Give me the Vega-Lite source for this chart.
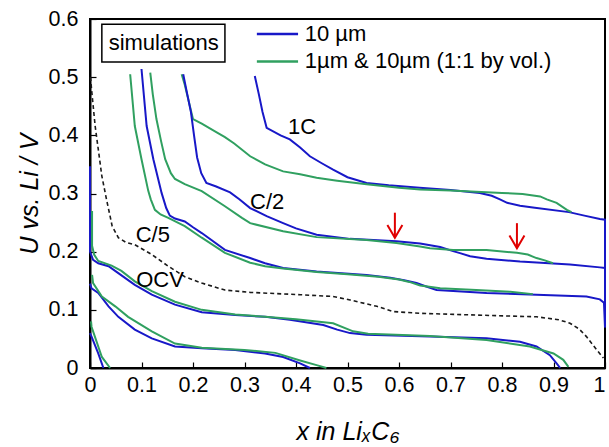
{
  "$schema": "https://vega.github.io/schema/vega-lite/v6.json",
  "width": 515,
  "height": 349,
  "autosize": {"type": "none"},
  "padding": {"left": 90, "top": 19, "right": 4, "bottom": 79},
  "background": "white",
  "config": {
    "view": {"stroke": "black", "strokeWidth": 2},
    "font": "Liberation Sans",
    "axis": {"grid": false, "zindex": 1, "labelFlush": false, "labelOverlap": false, "domainColor": "black", "domainWidth": 2, "tickColor": "black", "tickWidth": 1.2, "tickSize": -6, "labelFontSize": 21.5, "labelColor": "black", "labelFont": "Liberation Sans", "titleFont": "Liberation Sans", "titleFontSize": 25, "titleFontWeight": "normal", "titleFontStyle": "italic", "titleColor": "black"}
  },
  "datasets": {
    "curves": [
      {"c": "b1", "t": "10 µm", "x": 1, "y": 0.07},
      {"c": "b1", "t": "10 µm", "x": 1, "y": 0.255},
      {"c": "b1", "t": "10 µm", "x": 0.99, "y": 0.256},
      {"c": "b1", "t": "10 µm", "x": 0.96, "y": 0.262},
      {"c": "b1", "t": "10 µm", "x": 0.93, "y": 0.268},
      {"c": "b1", "t": "10 µm", "x": 0.86, "y": 0.276},
      {"c": "b1", "t": "10 µm", "x": 0.835, "y": 0.279},
      {"c": "b1", "t": "10 µm", "x": 0.81, "y": 0.284},
      {"c": "b1", "t": "10 µm", "x": 0.796, "y": 0.29},
      {"c": "b1", "t": "10 µm", "x": 0.78, "y": 0.296},
      {"c": "b1", "t": "10 µm", "x": 0.757, "y": 0.301},
      {"c": "b1", "t": "10 µm", "x": 0.7, "y": 0.306},
      {"c": "b1", "t": "10 µm", "x": 0.64, "y": 0.31},
      {"c": "b1", "t": "10 µm", "x": 0.58, "y": 0.314},
      {"c": "b1", "t": "10 µm", "x": 0.537, "y": 0.318},
      {"c": "b1", "t": "10 µm", "x": 0.5, "y": 0.328},
      {"c": "b1", "t": "10 µm", "x": 0.472, "y": 0.341},
      {"c": "b1", "t": "10 µm", "x": 0.45, "y": 0.352},
      {"c": "b1", "t": "10 µm", "x": 0.427, "y": 0.364},
      {"c": "b1", "t": "10 µm", "x": 0.408, "y": 0.379},
      {"c": "b1", "t": "10 µm", "x": 0.388, "y": 0.393},
      {"c": "b1", "t": "10 µm", "x": 0.37, "y": 0.4},
      {"c": "b1", "t": "10 µm", "x": 0.343, "y": 0.413},
      {"c": "b1", "t": "10 µm", "x": 0.335, "y": 0.44},
      {"c": "b1", "t": "10 µm", "x": 0.328, "y": 0.47},
      {"c": "b1", "t": "10 µm", "x": 0.32, "y": 0.502},

      {"c": "g1", "t": "1µm & 10µm (1:1 by vol.)", "x": 0.935, "y": 0.268},
      {"c": "g1", "t": "1µm & 10µm (1:1 by vol.)", "x": 0.926, "y": 0.272},
      {"c": "g1", "t": "1µm & 10µm (1:1 by vol.)", "x": 0.906, "y": 0.284},
      {"c": "g1", "t": "1µm & 10µm (1:1 by vol.)", "x": 0.887, "y": 0.29},
      {"c": "g1", "t": "1µm & 10µm (1:1 by vol.)", "x": 0.874, "y": 0.295},
      {"c": "g1", "t": "1µm & 10µm (1:1 by vol.)", "x": 0.84, "y": 0.299},
      {"c": "g1", "t": "1µm & 10µm (1:1 by vol.)", "x": 0.8, "y": 0.301},
      {"c": "g1", "t": "1µm & 10µm (1:1 by vol.)", "x": 0.7, "y": 0.305},
      {"c": "g1", "t": "1µm & 10µm (1:1 by vol.)", "x": 0.641, "y": 0.307},
      {"c": "g1", "t": "1µm & 10µm (1:1 by vol.)", "x": 0.6, "y": 0.31},
      {"c": "g1", "t": "1µm & 10µm (1:1 by vol.)", "x": 0.537, "y": 0.316},
      {"c": "g1", "t": "1µm & 10µm (1:1 by vol.)", "x": 0.48, "y": 0.322},
      {"c": "g1", "t": "1µm & 10µm (1:1 by vol.)", "x": 0.44, "y": 0.327},
      {"c": "g1", "t": "1µm & 10µm (1:1 by vol.)", "x": 0.408, "y": 0.333},
      {"c": "g1", "t": "1µm & 10µm (1:1 by vol.)", "x": 0.375, "y": 0.338},
      {"c": "g1", "t": "1µm & 10µm (1:1 by vol.)", "x": 0.34, "y": 0.35},
      {"c": "g1", "t": "1µm & 10µm (1:1 by vol.)", "x": 0.311, "y": 0.364},
      {"c": "g1", "t": "1µm & 10µm (1:1 by vol.)", "x": 0.28, "y": 0.386},
      {"c": "g1", "t": "1µm & 10µm (1:1 by vol.)", "x": 0.262, "y": 0.397},
      {"c": "g1", "t": "1µm & 10µm (1:1 by vol.)", "x": 0.246, "y": 0.405},
      {"c": "g1", "t": "1µm & 10µm (1:1 by vol.)", "x": 0.217, "y": 0.42},
      {"c": "g1", "t": "1µm & 10µm (1:1 by vol.)", "x": 0.2, "y": 0.428},
      {"c": "g1", "t": "1µm & 10µm (1:1 by vol.)", "x": 0.197, "y": 0.439},
      {"c": "g1", "t": "1µm & 10µm (1:1 by vol.)", "x": 0.19, "y": 0.465},
      {"c": "g1", "t": "1µm & 10µm (1:1 by vol.)", "x": 0.184, "y": 0.487},
      {"c": "g1", "t": "1µm & 10µm (1:1 by vol.)", "x": 0.178, "y": 0.505},

      {"c": "b2", "t": "10 µm", "x": 1, "y": 0.07},
      {"c": "b2", "t": "10 µm", "x": 1, "y": 0.172},
      {"c": "b2", "t": "10 µm", "x": 0.99, "y": 0.173},
      {"c": "b2", "t": "10 µm", "x": 0.932, "y": 0.178},
      {"c": "b2", "t": "10 µm", "x": 0.835, "y": 0.183},
      {"c": "b2", "t": "10 µm", "x": 0.77, "y": 0.188},
      {"c": "b2", "t": "10 µm", "x": 0.738, "y": 0.192},
      {"c": "b2", "t": "10 µm", "x": 0.72, "y": 0.197},
      {"c": "b2", "t": "10 µm", "x": 0.705, "y": 0.201},
      {"c": "b2", "t": "10 µm", "x": 0.68, "y": 0.208},
      {"c": "b2", "t": "10 µm", "x": 0.641, "y": 0.214},
      {"c": "b2", "t": "10 µm", "x": 0.595, "y": 0.218},
      {"c": "b2", "t": "10 µm", "x": 0.505, "y": 0.222},
      {"c": "b2", "t": "10 µm", "x": 0.44, "y": 0.229},
      {"c": "b2", "t": "10 µm", "x": 0.4, "y": 0.24},
      {"c": "b2", "t": "10 µm", "x": 0.375, "y": 0.249},
      {"c": "b2", "t": "10 µm", "x": 0.343, "y": 0.261},
      {"c": "b2", "t": "10 µm", "x": 0.311, "y": 0.275},
      {"c": "b2", "t": "10 µm", "x": 0.29, "y": 0.29},
      {"c": "b2", "t": "10 µm", "x": 0.272, "y": 0.302},
      {"c": "b2", "t": "10 µm", "x": 0.245, "y": 0.312},
      {"c": "b2", "t": "10 µm", "x": 0.226, "y": 0.318},
      {"c": "b2", "t": "10 µm", "x": 0.216, "y": 0.335},
      {"c": "b2", "t": "10 µm", "x": 0.208, "y": 0.362},
      {"c": "b2", "t": "10 µm", "x": 0.202, "y": 0.4},
      {"c": "b2", "t": "10 µm", "x": 0.196, "y": 0.44},
      {"c": "b2", "t": "10 µm", "x": 0.189, "y": 0.47},
      {"c": "b2", "t": "10 µm", "x": 0.181, "y": 0.505},

      {"c": "g2", "t": "1µm & 10µm (1:1 by vol.)", "x": 0.899, "y": 0.18},
      {"c": "g2", "t": "1µm & 10µm (1:1 by vol.)", "x": 0.883, "y": 0.185},
      {"c": "g2", "t": "1µm & 10µm (1:1 by vol.)", "x": 0.867, "y": 0.189},
      {"c": "g2", "t": "1µm & 10µm (1:1 by vol.)", "x": 0.85, "y": 0.195},
      {"c": "g2", "t": "1µm & 10µm (1:1 by vol.)", "x": 0.829, "y": 0.198},
      {"c": "g2", "t": "1µm & 10µm (1:1 by vol.)", "x": 0.77, "y": 0.203},
      {"c": "g2", "t": "1µm & 10µm (1:1 by vol.)", "x": 0.705, "y": 0.203},
      {"c": "g2", "t": "1µm & 10µm (1:1 by vol.)", "x": 0.66, "y": 0.206},
      {"c": "g2", "t": "1µm & 10µm (1:1 by vol.)", "x": 0.641, "y": 0.209},
      {"c": "g2", "t": "1µm & 10µm (1:1 by vol.)", "x": 0.595, "y": 0.215},
      {"c": "g2", "t": "1µm & 10µm (1:1 by vol.)", "x": 0.537, "y": 0.22},
      {"c": "g2", "t": "1µm & 10µm (1:1 by vol.)", "x": 0.44, "y": 0.225},
      {"c": "g2", "t": "1µm & 10µm (1:1 by vol.)", "x": 0.375, "y": 0.235},
      {"c": "g2", "t": "1µm & 10µm (1:1 by vol.)", "x": 0.311, "y": 0.249},
      {"c": "g2", "t": "1µm & 10µm (1:1 by vol.)", "x": 0.295, "y": 0.258},
      {"c": "g2", "t": "1µm & 10µm (1:1 by vol.)", "x": 0.262, "y": 0.278},
      {"c": "g2", "t": "1µm & 10µm (1:1 by vol.)", "x": 0.217, "y": 0.304},
      {"c": "g2", "t": "1µm & 10µm (1:1 by vol.)", "x": 0.184, "y": 0.316},
      {"c": "g2", "t": "1µm & 10µm (1:1 by vol.)", "x": 0.165, "y": 0.325},
      {"c": "g2", "t": "1µm & 10µm (1:1 by vol.)", "x": 0.157, "y": 0.335},
      {"c": "g2", "t": "1µm & 10µm (1:1 by vol.)", "x": 0.146, "y": 0.359},
      {"c": "g2", "t": "1µm & 10µm (1:1 by vol.)", "x": 0.138, "y": 0.39},
      {"c": "g2", "t": "1µm & 10µm (1:1 by vol.)", "x": 0.129, "y": 0.428},
      {"c": "g2", "t": "1µm & 10µm (1:1 by vol.)", "x": 0.122, "y": 0.47},
      {"c": "g2", "t": "1µm & 10µm (1:1 by vol.)", "x": 0.117, "y": 0.508},

      {"c": "b3", "t": "10 µm", "x": 1, "y": 0.07},
      {"c": "b3", "t": "10 µm", "x": 0.998, "y": 0.112},
      {"c": "b3", "t": "10 µm", "x": 0.99, "y": 0.118},
      {"c": "b3", "t": "10 µm", "x": 0.964, "y": 0.123},
      {"c": "b3", "t": "10 µm", "x": 0.867, "y": 0.126},
      {"c": "b3", "t": "10 µm", "x": 0.77, "y": 0.129},
      {"c": "b3", "t": "10 µm", "x": 0.673, "y": 0.134},
      {"c": "b3", "t": "10 µm", "x": 0.65, "y": 0.141},
      {"c": "b3", "t": "10 µm", "x": 0.634, "y": 0.146},
      {"c": "b3", "t": "10 µm", "x": 0.61, "y": 0.151},
      {"c": "b3", "t": "10 µm", "x": 0.583, "y": 0.155},
      {"c": "b3", "t": "10 µm", "x": 0.537, "y": 0.16},
      {"c": "b3", "t": "10 µm", "x": 0.44, "y": 0.166},
      {"c": "b3", "t": "10 µm", "x": 0.375, "y": 0.172},
      {"c": "b3", "t": "10 µm", "x": 0.34, "y": 0.18},
      {"c": "b3", "t": "10 µm", "x": 0.311, "y": 0.189},
      {"c": "b3", "t": "10 µm", "x": 0.262, "y": 0.203},
      {"c": "b3", "t": "10 µm", "x": 0.217, "y": 0.232},
      {"c": "b3", "t": "10 µm", "x": 0.2, "y": 0.242},
      {"c": "b3", "t": "10 µm", "x": 0.184, "y": 0.252},
      {"c": "b3", "t": "10 µm", "x": 0.165, "y": 0.257},
      {"c": "b3", "t": "10 µm", "x": 0.155, "y": 0.262},
      {"c": "b3", "t": "10 µm", "x": 0.148, "y": 0.275},
      {"c": "b3", "t": "10 µm", "x": 0.139, "y": 0.301},
      {"c": "b3", "t": "10 µm", "x": 0.123, "y": 0.359},
      {"c": "b3", "t": "10 µm", "x": 0.11, "y": 0.416},
      {"c": "b3", "t": "10 µm", "x": 0.1, "y": 0.514},

      {"c": "g3", "t": "1µm & 10µm (1:1 by vol.)", "x": 0.86, "y": 0.127},
      {"c": "g3", "t": "1µm & 10µm (1:1 by vol.)", "x": 0.816, "y": 0.131},
      {"c": "g3", "t": "1µm & 10µm (1:1 by vol.)", "x": 0.75, "y": 0.134},
      {"c": "g3", "t": "1µm & 10µm (1:1 by vol.)", "x": 0.68, "y": 0.137},
      {"c": "g3", "t": "1µm & 10µm (1:1 by vol.)", "x": 0.641, "y": 0.142},
      {"c": "g3", "t": "1µm & 10µm (1:1 by vol.)", "x": 0.62, "y": 0.148},
      {"c": "g3", "t": "1µm & 10µm (1:1 by vol.)", "x": 0.6, "y": 0.152},
      {"c": "g3", "t": "1µm & 10µm (1:1 by vol.)", "x": 0.56, "y": 0.157},
      {"c": "g3", "t": "1µm & 10µm (1:1 by vol.)", "x": 0.5, "y": 0.161},
      {"c": "g3", "t": "1µm & 10µm (1:1 by vol.)", "x": 0.44, "y": 0.165},
      {"c": "g3", "t": "1µm & 10µm (1:1 by vol.)", "x": 0.375, "y": 0.171},
      {"c": "g3", "t": "1µm & 10µm (1:1 by vol.)", "x": 0.34, "y": 0.175},
      {"c": "g3", "t": "1µm & 10µm (1:1 by vol.)", "x": 0.311, "y": 0.181},
      {"c": "g3", "t": "1µm & 10µm (1:1 by vol.)", "x": 0.262, "y": 0.198},
      {"c": "g3", "t": "1µm & 10µm (1:1 by vol.)", "x": 0.217, "y": 0.224},
      {"c": "g3", "t": "1µm & 10µm (1:1 by vol.)", "x": 0.184, "y": 0.244},
      {"c": "g3", "t": "1µm & 10µm (1:1 by vol.)", "x": 0.152, "y": 0.258},
      {"c": "g3", "t": "1µm & 10µm (1:1 by vol.)", "x": 0.137, "y": 0.264},
      {"c": "g3", "t": "1µm & 10µm (1:1 by vol.)", "x": 0.126, "y": 0.272},
      {"c": "g3", "t": "1µm & 10µm (1:1 by vol.)", "x": 0.118, "y": 0.29},
      {"c": "g3", "t": "1µm & 10µm (1:1 by vol.)", "x": 0.113, "y": 0.305},
      {"c": "g3", "t": "1µm & 10µm (1:1 by vol.)", "x": 0.1, "y": 0.359},
      {"c": "g3", "t": "1µm & 10µm (1:1 by vol.)", "x": 0.087, "y": 0.416},
      {"c": "g3", "t": "1µm & 10µm (1:1 by vol.)", "x": 0.078, "y": 0.505},

      {"c": "b4", "t": "10 µm", "x": 0, "y": 0.347},
      {"c": "b4", "t": "10 µm", "x": 0, "y": 0.2},
      {"c": "b4", "t": "10 µm", "x": 0.006, "y": 0.186},
      {"c": "b4", "t": "10 µm", "x": 0.016, "y": 0.18},
      {"c": "b4", "t": "10 µm", "x": 0.036, "y": 0.175},
      {"c": "b4", "t": "10 µm", "x": 0.055, "y": 0.163},
      {"c": "b4", "t": "10 µm", "x": 0.087, "y": 0.143},
      {"c": "b4", "t": "10 µm", "x": 0.12, "y": 0.126},
      {"c": "b4", "t": "10 µm", "x": 0.165, "y": 0.109},
      {"c": "b4", "t": "10 µm", "x": 0.217, "y": 0.096},
      {"c": "b4", "t": "10 µm", "x": 0.282, "y": 0.091},
      {"c": "b4", "t": "10 µm", "x": 0.34, "y": 0.088},
      {"c": "b4", "t": "10 µm", "x": 0.388, "y": 0.083},
      {"c": "b4", "t": "10 µm", "x": 0.453, "y": 0.074},
      {"c": "b4", "t": "10 µm", "x": 0.48, "y": 0.066},
      {"c": "b4", "t": "10 µm", "x": 0.505, "y": 0.06},
      {"c": "b4", "t": "10 µm", "x": 0.537, "y": 0.057},
      {"c": "b4", "t": "10 µm", "x": 0.66, "y": 0.054},
      {"c": "b4", "t": "10 µm", "x": 0.77, "y": 0.051},
      {"c": "b4", "t": "10 µm", "x": 0.835, "y": 0.045},
      {"c": "b4", "t": "10 µm", "x": 0.867, "y": 0.037},
      {"c": "b4", "t": "10 µm", "x": 0.893, "y": 0.022},
      {"c": "b4", "t": "10 µm", "x": 0.906, "y": 0.008},
      {"c": "b4", "t": "10 µm", "x": 0.913, "y": 0},

      {"c": "g4", "t": "1µm & 10µm (1:1 by vol.)", "x": 0.004, "y": 0.27},
      {"c": "g4", "t": "1µm & 10µm (1:1 by vol.)", "x": 0.004, "y": 0.21},
      {"c": "g4", "t": "1µm & 10µm (1:1 by vol.)", "x": 0.008, "y": 0.195},
      {"c": "g4", "t": "1µm & 10µm (1:1 by vol.)", "x": 0.016, "y": 0.184},
      {"c": "g4", "t": "1µm & 10µm (1:1 by vol.)", "x": 0.042, "y": 0.176},
      {"c": "g4", "t": "1µm & 10µm (1:1 by vol.)", "x": 0.061, "y": 0.167},
      {"c": "g4", "t": "1µm & 10µm (1:1 by vol.)", "x": 0.087, "y": 0.149},
      {"c": "g4", "t": "1µm & 10µm (1:1 by vol.)", "x": 0.12, "y": 0.132},
      {"c": "g4", "t": "1µm & 10µm (1:1 by vol.)", "x": 0.165, "y": 0.114},
      {"c": "g4", "t": "1µm & 10µm (1:1 by vol.)", "x": 0.217, "y": 0.1},
      {"c": "g4", "t": "1µm & 10µm (1:1 by vol.)", "x": 0.282, "y": 0.092},
      {"c": "g4", "t": "1µm & 10µm (1:1 by vol.)", "x": 0.34, "y": 0.088},
      {"c": "g4", "t": "1µm & 10µm (1:1 by vol.)", "x": 0.4, "y": 0.084},
      {"c": "g4", "t": "1µm & 10µm (1:1 by vol.)", "x": 0.472, "y": 0.077},
      {"c": "g4", "t": "1µm & 10µm (1:1 by vol.)", "x": 0.511, "y": 0.063},
      {"c": "g4", "t": "1µm & 10µm (1:1 by vol.)", "x": 0.54, "y": 0.059},
      {"c": "g4", "t": "1µm & 10µm (1:1 by vol.)", "x": 0.66, "y": 0.055},
      {"c": "g4", "t": "1µm & 10µm (1:1 by vol.)", "x": 0.77, "y": 0.048},
      {"c": "g4", "t": "1µm & 10µm (1:1 by vol.)", "x": 0.854, "y": 0.037},
      {"c": "g4", "t": "1µm & 10µm (1:1 by vol.)", "x": 0.9, "y": 0.025},
      {"c": "g4", "t": "1µm & 10µm (1:1 by vol.)", "x": 0.919, "y": 0.014},
      {"c": "g4", "t": "1µm & 10µm (1:1 by vol.)", "x": 0.929, "y": 0.002},

      {"c": "b5", "t": "10 µm", "x": 0, "y": 0.145},
      {"c": "b5", "t": "10 µm", "x": 0.003, "y": 0.137},
      {"c": "b5", "t": "10 µm", "x": 0.016, "y": 0.129},
      {"c": "b5", "t": "10 µm", "x": 0.036, "y": 0.106},
      {"c": "b5", "t": "10 µm", "x": 0.055, "y": 0.088},
      {"c": "b5", "t": "10 µm", "x": 0.087, "y": 0.066},
      {"c": "b5", "t": "10 µm", "x": 0.12, "y": 0.051},
      {"c": "b5", "t": "10 µm", "x": 0.165, "y": 0.037},
      {"c": "b5", "t": "10 µm", "x": 0.217, "y": 0.034},
      {"c": "b5", "t": "10 µm", "x": 0.282, "y": 0.031},
      {"c": "b5", "t": "10 µm", "x": 0.34, "y": 0.025},
      {"c": "b5", "t": "10 µm", "x": 0.375, "y": 0.019},
      {"c": "b5", "t": "10 µm", "x": 0.408, "y": 0.008},
      {"c": "b5", "t": "10 µm", "x": 0.427, "y": 0},

      {"c": "g5", "t": "1µm & 10µm (1:1 by vol.)", "x": 0.004, "y": 0.16},
      {"c": "g5", "t": "1µm & 10µm (1:1 by vol.)", "x": 0.006, "y": 0.146},
      {"c": "g5", "t": "1µm & 10µm (1:1 by vol.)", "x": 0.023, "y": 0.123},
      {"c": "g5", "t": "1µm & 10µm (1:1 by vol.)", "x": 0.049, "y": 0.106},
      {"c": "g5", "t": "1µm & 10µm (1:1 by vol.)", "x": 0.074, "y": 0.088},
      {"c": "g5", "t": "1µm & 10µm (1:1 by vol.)", "x": 0.12, "y": 0.063},
      {"c": "g5", "t": "1µm & 10µm (1:1 by vol.)", "x": 0.165, "y": 0.042},
      {"c": "g5", "t": "1µm & 10µm (1:1 by vol.)", "x": 0.217, "y": 0.035},
      {"c": "g5", "t": "1µm & 10µm (1:1 by vol.)", "x": 0.3, "y": 0.031},
      {"c": "g5", "t": "1µm & 10µm (1:1 by vol.)", "x": 0.36, "y": 0.026},
      {"c": "g5", "t": "1µm & 10µm (1:1 by vol.)", "x": 0.408, "y": 0.013},
      {"c": "g5", "t": "1µm & 10µm (1:1 by vol.)", "x": 0.44, "y": 0.005},
      {"c": "g5", "t": "1µm & 10µm (1:1 by vol.)", "x": 0.459, "y": 0},

      {"c": "b6", "t": "10 µm", "x": 0, "y": 0.06},
      {"c": "b6", "t": "10 µm", "x": 0.003, "y": 0.054},
      {"c": "b6", "t": "10 µm", "x": 0.016, "y": 0.025},
      {"c": "b6", "t": "10 µm", "x": 0.026, "y": 0},

      {"c": "g6", "t": "1µm & 10µm (1:1 by vol.)", "x": 0.002, "y": 0.08},
      {"c": "g6", "t": "1µm & 10µm (1:1 by vol.)", "x": 0.003, "y": 0.071},
      {"c": "g6", "t": "1µm & 10µm (1:1 by vol.)", "x": 0.023, "y": 0.019},
      {"c": "g6", "t": "1µm & 10µm (1:1 by vol.)", "x": 0.039, "y": 0}
    ],
    "ocv": [
      {"x": 0.001, "y": 0.5},
      {"x": 0.003, "y": 0.479},
      {"x": 0.01, "y": 0.416},
      {"x": 0.023, "y": 0.33},
      {"x": 0.032, "y": 0.29},
      {"x": 0.039, "y": 0.261},
      {"x": 0.043, "y": 0.244},
      {"x": 0.055, "y": 0.224},
      {"x": 0.07, "y": 0.216},
      {"x": 0.087, "y": 0.212},
      {"x": 0.12, "y": 0.195},
      {"x": 0.152, "y": 0.175},
      {"x": 0.184, "y": 0.157},
      {"x": 0.217, "y": 0.146},
      {"x": 0.262, "y": 0.134},
      {"x": 0.311, "y": 0.13},
      {"x": 0.408, "y": 0.126},
      {"x": 0.472, "y": 0.123},
      {"x": 0.505, "y": 0.117},
      {"x": 0.557, "y": 0.106},
      {"x": 0.589, "y": 0.097},
      {"x": 0.641, "y": 0.094},
      {"x": 0.751, "y": 0.091},
      {"x": 0.867, "y": 0.088},
      {"x": 0.91, "y": 0.083},
      {"x": 0.932, "y": 0.077},
      {"x": 0.95, "y": 0.067},
      {"x": 0.964, "y": 0.054},
      {"x": 0.984, "y": 0.031},
      {"x": 0.997, "y": 0.017}
    ],
    "legendRows": [
      {"t": "10 µm", "x1": 0.324, "x2": 0.404, "xt": 0.417, "y": 0.574},
      {"t": "1µm & 10µm (1:1 by vol.)", "x1": 0.324, "x2": 0.404, "xt": 0.417, "y": 0.527}
    ]
  },
  "layer": [
    {
      "data": {"values": [{"x1": 0.023, "x2": 0.262, "y1": 0.526, "y2": 0.591}]},
      "mark": {"type": "rect", "fill": "white", "stroke": "black", "strokeWidth": 1.5},
      "encoding": {
        "x": {"field": "x1", "type": "quantitative", "scale": {"domain": [0, 1]}},
        "x2": {"field": "x2"},
        "y": {"field": "y1", "type": "quantitative", "scale": {"domain": [0, 0.6]}},
        "y2": {"field": "y2"}
      }
    },
    {
      "data": {"name": "ocv"},
      "mark": {"type": "line", "color": "#1a1a1a", "strokeWidth": 1.6, "strokeDash": [4, 3]},
      "encoding": {
        "x": {"field": "x", "type": "quantitative"},
        "y": {"field": "y", "type": "quantitative"},
        "order": {"value": null}
      }
    },
    {
      "data": {"name": "curves"},
      "mark": {"type": "line", "strokeWidth": 2},
      "encoding": {
        "x": {"field": "x", "type": "quantitative", "scale": {"domain": [0, 1]},
          "axis": {"values": [0, 0.1, 0.2, 0.3, 0.4, 0.5, 0.6, 0.7, 0.8, 0.9, 1], "format": "~g", "title": "x in LiₓC₆", "labelPadding": 12, "titlePadding": 24,
            "labelAlign": {"condition": {"test": "datum.value >= 1", "value": "right"}, "value": "center"}}},
        "y": {"field": "y", "type": "quantitative", "scale": {"domain": [0, 0.6]},
          "axis": {"values": [0, 0.1, 0.2, 0.3, 0.4, 0.5, 0.6], "format": "~g", "title": "U vs. Li / V", "labelPadding": 18, "titlePadding": 6}},
        "color": {"field": "t", "type": "nominal",
          "scale": {"domain": ["10 µm", "1µm & 10µm (1:1 by vol.)"], "range": ["#1818c8", "#30a060"]},
          "legend": null},
        "detail": {"field": "c"},
        "order": {"value": null}
      }
    },
    {
      "data": {"name": "legendRows"},
      "layer": [
        {"mark": {"type": "rule", "strokeWidth": 2.5},
          "encoding": {
            "x": {"field": "x1", "type": "quantitative"},
            "x2": {"field": "x2"},
            "y": {"field": "y", "type": "quantitative"},
            "color": {"field": "t", "type": "nominal", "legend": null}
          }},
        {"mark": {"type": "text", "fontSize": 22, "font": "Liberation Sans", "color": "black", "align": "left", "baseline": "middle"},
          "encoding": {
            "x": {"field": "xt", "type": "quantitative"},
            "y": {"field": "y", "type": "quantitative"},
            "text": {"field": "t"}
          }}
      ]
    },
    {
      "data": {"values": [{"x": 0.592, "y1": 0.267, "y2": 0.224}, {"x": 0.829, "y1": 0.249, "y2": 0.206}]},
      "layer": [
        {"mark": {"type": "rule", "color": "#e00000", "strokeWidth": 2},
          "encoding": {"x": {"field": "x", "type": "quantitative"}, "y": {"field": "y1", "type": "quantitative"}, "y2": {"field": "y2"}}},
        {"mark": {"type": "point", "shape": "M-1,-1.7L0,0L1,-1.7", "filled": false, "stroke": "#e00000", "strokeWidth": 2, "size": 225, "opacity": 1},
          "encoding": {"x": {"field": "x", "type": "quantitative"}, "y": {"field": "y2", "type": "quantitative"}}}
      ]
    },
    {
      "data": {"values": [
        {"x": 0.412, "y": 0.414, "label": "1C"},
        {"x": 0.344, "y": 0.286, "label": "C/2"},
        {"x": 0.122, "y": 0.229, "label": "C/5"},
        {"x": 0.136, "y": 0.152, "label": "OCV"},
        {"x": 0.143, "y": 0.559, "label": "simulations"}
      ]},
      "mark": {"type": "text", "fontSize": 22, "font": "Liberation Sans", "color": "black", "align": "center", "baseline": "middle"},
      "encoding": {
        "x": {"field": "x", "type": "quantitative"},
        "y": {"field": "y", "type": "quantitative"},
        "text": {"field": "label"}
      }
    }
  ]
}
